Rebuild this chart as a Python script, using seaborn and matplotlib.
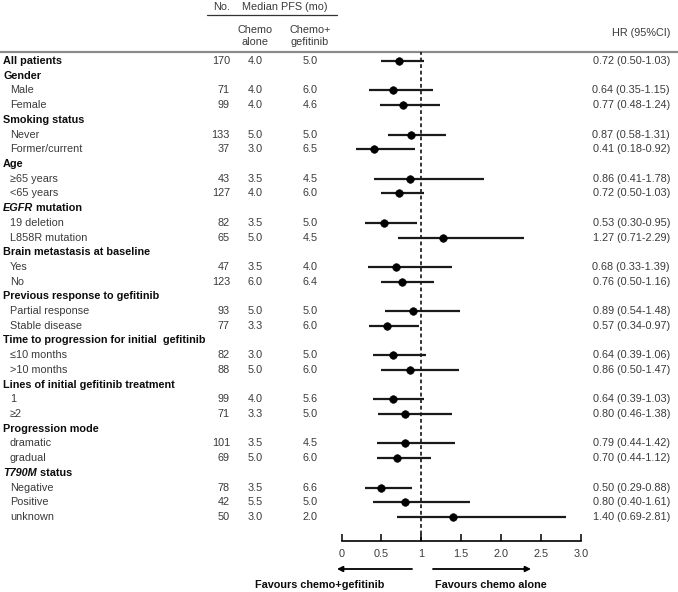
import numpy as np
import pandas as pd
import matplotlib
matplotlib.use('Agg')
import matplotlib.pyplot as plt
import matplotlib.transforms as mtransforms
import seaborn as sns

nan = np.nan

# Rows of the forest plot (a "|" splits an italic prefix from the rest)
labels = ['All patients', 'Gender', 'Male', 'Female', 'Smoking status', 'Never', 'Former/current',
          'Age', '≥65 years', '<65 years', 'EGFR| mutation', '19 deletion', 'L858R mutation',
          'Brain metastasis at baseline', 'Yes', 'No', 'Previous response to gefitinib',
          'Partial response', 'Stable disease', 'Time to progression for initial  gefitinib',
          '≤10 months', '>10 months', 'Lines of initial gefitinib treatment', '1', '≥2',
          'Progression mode', 'dramatic', 'gradual', 'T790M| status', 'Negative', 'Positive', 'unknown']
bold_rows = [1, 1, 0, 0, 1, 0, 0, 1, 0, 0, 1, 0, 0, 1, 0, 0, 1, 0, 0, 1, 0, 0, 1, 0, 0, 1, 0, 0, 1, 0, 0, 0]
n_pts = [170, nan, 71, 99, nan, 133, 37, nan, 43, 127, nan, 82, 65, nan, 47, 123, nan, 93, 77, nan,
         82, 88, nan, 99, 71, nan, 101, 69, nan, 78, 42, 50]
pfs_chemo = [4.0, nan, 4.0, 4.0, nan, 5.0, 3.0, nan, 3.5, 4.0, nan, 3.5, 5.0, nan, 3.5, 6.0, nan, 5.0, 3.3, nan,
             3.0, 5.0, nan, 4.0, 3.3, nan, 3.5, 5.0, nan, 3.5, 5.5, 3.0]
pfs_combo = [5.0, nan, 6.0, 4.6, nan, 5.0, 6.5, nan, 4.5, 6.0, nan, 5.0, 4.5, nan, 4.0, 6.4, nan, 5.0, 6.0, nan,
             5.0, 6.0, nan, 5.6, 5.0, nan, 4.5, 6.0, nan, 6.6, 5.0, 2.0]
hr = [0.72, nan, 0.64, 0.77, nan, 0.87, 0.41, nan, 0.86, 0.72, nan, 0.53, 1.27, nan, 0.68, 0.76, nan, 0.89, 0.57, nan,
      0.64, 0.86, nan, 0.64, 0.80, nan, 0.79, 0.70, nan, 0.50, 0.80, 1.40]
hr_lo = [0.50, nan, 0.35, 0.48, nan, 0.58, 0.18, nan, 0.41, 0.50, nan, 0.30, 0.71, nan, 0.33, 0.50, nan, 0.54, 0.34, nan,
         0.39, 0.50, nan, 0.39, 0.46, nan, 0.44, 0.44, nan, 0.29, 0.40, 0.69]
hr_hi = [1.03, nan, 1.15, 1.24, nan, 1.31, 0.92, nan, 1.78, 1.03, nan, 0.95, 2.29, nan, 1.39, 1.16, nan, 1.48, 0.97, nan,
         1.06, 1.47, nan, 1.03, 1.38, nan, 1.42, 1.12, nan, 0.88, 1.61, 2.81]
x_ticks = [0, 0.5, 1, 1.5, 2, 2.5, 3]
x_tick_labels = ['0', '0.5', '1', '1.5', '2.0', '2.5', '3.0']

df = pd.DataFrame({'label': labels, 'bold': bold_rows, 'n': n_pts, 'chemo': pfs_chemo,
                   'combo': pfs_combo, 'hr': hr, 'lo': hr_lo, 'hi': hr_hi})
df['row'] = np.arange(len(df))

sns.set_style('white')
plt.rcParams['font.family'] = ['Liberation Sans', 'DejaVu Sans']
FS = 7.8
TXT = '#3a3a3a'   # regular text is a soft dark grey
BTXT = '#0d0d0d'  # bold headings are near black

# Layout in pixels (figure 678 x 592)
W, H = 678, 592
first_y, last_y = 61, 517
rule_y, axis_y = 52, 541
step = (last_y - first_y) / (len(df) - 1)
x0_px, x3_px = 341.5, 581

fig = plt.figure(figsize=(W / 100, H / 100), dpi=100)
ov = fig.add_axes([0, 0, 1, 1])
ov.set_xlim(0, W)
ov.set_ylim(H, 0)
ov.axis('off')

ax = fig.add_axes([x0_px / W, 1 - axis_y / H, (x3_px - x0_px) / W, (axis_y - rule_y) / H])
ax.patch.set_alpha(0)

# CI lines and points
pts = df.dropna(subset=['hr'])
ax.hlines(pts['row'], pts['lo'], pts['hi'], color='#1a1a1a', lw=1.6, zorder=2)
sns.scatterplot(data=pts, x='hr', y='row', color='black', edgecolor='black', s=30,
                legend=False, ax=ax, zorder=3)
ax.axvline(1, color='black', lw=1.1, ls=(0, (2.5, 1.8)), zorder=1)

ax.set_xlim(0, 3)
ax.set_ylim(len(df) - 1 + (axis_y - last_y) / step, -(first_y - rule_y) / step)
ax.set_xlabel('')
ax.set_ylabel('')
ax.set_yticks([])
ax.set_xticks(x_ticks)
ax.set_xticklabels(x_tick_labels, fontsize=FS, color=TXT)
ax.tick_params(axis='x', direction='in', length=5, width=1.1, color='black', pad=5.5, bottom=True)
for s in ['left', 'top', 'right']:
    ax.spines[s].set_visible(False)
ax.spines['bottom'].set_color('black')
ax.spines['bottom'].set_linewidth(1.2)

# Table text: x in pixels, y in row units
tr = mtransforms.blended_transform_factory(ov.transData, ax.transData)
for _, r in df.iterrows():
    x_lab = 3 if r['bold'] else 10
    if '|' in r['label']:
        pre, rest = r['label'].split('|')
        t = ov.text(x_lab, r['row'], pre, transform=tr, fontsize=FS, fontweight='bold',
                    fontstyle='italic', va='center', ha='left', color=BTXT)
        ov.annotate(rest, xy=(1, 0), xycoords=t, va='bottom', ha='left',
                    fontsize=FS, fontweight='bold', color=BTXT)
    elif r['bold']:
        ov.text(x_lab, r['row'], r['label'], transform=tr, fontsize=FS, fontweight='bold',
                va='center', ha='left', color=BTXT)
    else:
        ov.text(x_lab, r['row'], r['label'], transform=tr, fontsize=FS,
                va='center', ha='left', color=TXT)
    if not np.isnan(r['n']):
        ov.text(230, r['row'], f"{int(r['n'])}", transform=tr, fontsize=FS, va='center', ha='right', color=TXT)
        ov.text(255, r['row'], f"{r['chemo']:.1f}", transform=tr, fontsize=FS, va='center', ha='center', color=TXT)
        ov.text(310, r['row'], f"{r['combo']:.1f}", transform=tr, fontsize=FS, va='center', ha='center', color=TXT)
        ov.text(670, r['row'], f"{r['hr']:.2f} ({r['lo']:.2f}-{r['hi']:.2f})", transform=tr,
                fontsize=FS, va='center', ha='right', color=TXT)

# Header
ov.text(222, 7, 'No.', fontsize=FS, ha='center', va='center', color=TXT)
ov.text(285, 7, 'Median PFS (mo)', fontsize=FS, ha='center', va='center', color=TXT)
ov.plot([207, 337], [15, 15], color='#333333', lw=0.9)
ov.text(255, 36, 'Chemo\nalone', fontsize=FS, ha='center', va='center', color=TXT, linespacing=1.35)
ov.text(310, 36, 'Chemo+\ngefitinib', fontsize=FS, ha='center', va='center', color=TXT, linespacing=1.35)
ov.text(670, 33, 'HR (95%CI)', fontsize=FS, ha='right', va='center', color=TXT)
ov.plot([0, W], [rule_y, rule_y], color='#8a8a8a', lw=1.6)

# Favours arrows
arrow = dict(arrowstyle='-|>', color='black', lw=1.3, mutation_scale=8, shrinkA=0, shrinkB=0)
ov.annotate('', xy=(337, 569), xytext=(412, 569), arrowprops=arrow)
ov.annotate('', xy=(531, 569), xytext=(433, 569), arrowprops=arrow)
ov.text(384, 585, 'Favours chemo+gefitinib', fontsize=FS, fontweight='bold', ha='right', va='center', color=BTXT)
ov.text(435, 585, 'Favours chemo alone', fontsize=FS, fontweight='bold', ha='left', va='center', color=BTXT)

fig.savefig('out.png', dpi=100)
